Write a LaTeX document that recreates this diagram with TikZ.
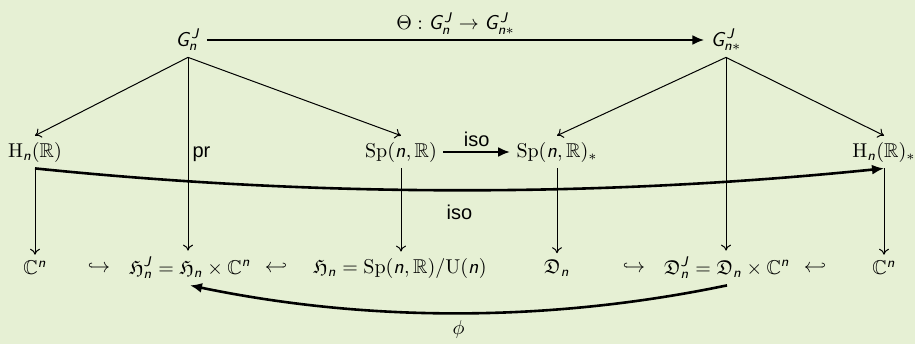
\documentclass[tikz,border=0pt]{standalone}
\usepackage{amsmath,amssymb}
\usepackage{fontspec}
\setsansfont{Liberation Sans}
\usepackage{xcolor}
\usepackage{tikz}
\usetikzlibrary{arrows.meta, positioning, calc}

\definecolor{slidebg}{RGB}{230,240,212}

% sans letters in formulas, as on the slide
\DeclareSymbolFont{sfletters}{OT1}{cmss}{m}{sl}
\DeclareSymbolFont{sfupright}{OT1}{cmss}{m}{n}
\DeclareMathSymbol{n}{\mathalpha}{sfletters}{`n}
\DeclareMathSymbol{J}{\mathalpha}{sfletters}{`J}
\DeclareMathSymbol{G}{\mathalpha}{sfletters}{`G}
\DeclareMathSymbol{\Theta}{\mathalpha}{sfupright}{"02}

\begin{document}
\begin{tikzpicture}[
    x=0.5pt, y=-0.5pt,
    obj/.style={inner sep=3pt},
    hook/.style={inner sep=0.5pt},
    map/.style={-{To[length=3pt,width=5pt]}, line width=0.5pt},
    bigmap/.style={-{Latex[length=6pt,width=5pt]}, line width=1.3pt},
    lbl/.style={font=\sffamily, inner sep=2pt},
  ]
  \fill[slidebg] (0,0) rectangle (915,344);
  \useasboundingbox (0,0) rectangle (915,344);

  % top row
  \node[obj] (Gn) at (188,40) {$G_n^J$};
  \node[obj] (Gs) at (726,40) {$G_{n*}^J$};

  % middle row
  \node[obj] (Hn)  at (35,152)  {$\mathrm{H}_n(\mathbb{R})$};
  \node[obj] (Sp)  at (401,152) {$\mathrm{Sp}(n,\mathbb{R})$};
  \node[obj] (Sps) at (557,152) {$\mathrm{Sp}(n,\mathbb{R})_*$};
  \node[obj] (Hs)  at (884,152) {$\mathrm{H}_n(\mathbb{R})_*$};

  % bottom row
  \node[obj]  (C1)  at (35,268)  {$\mathbb{C}^n$};
  \node[hook] (hk1) at (99,268)  {$\hookrightarrow$};
  \node[obj]  (HJ)  at (190,268) {$\mathfrak{H}_n^J = \mathfrak{H}_n\times\mathbb{C}^n$};
  \node[hook] (hk2) at (276,268) {$\hookleftarrow$};
  \node[obj]  (Hfr) at (400,268) {$\mathfrak{H}_n = \mathrm{Sp}(n,\mathbb{R})/\mathrm{U}(n)$};
  \node[obj]  (Dn)  at (557,268) {$\mathfrak{D}_n$};
  \node[hook] (hk3) at (634,268) {$\hookrightarrow$};
  \node[obj]  (DJ)  at (727,268) {$\mathfrak{D}_n^J = \mathfrak{D}_n\times\mathbb{C}^n$};
  \node[hook] (hk4) at (815,268) {$\hookleftarrow$};
  \node[obj]  (C2)  at (884,268) {$\mathbb{C}^n$};

  \draw[bigmap] (Gn) -- node[above, lbl] {$\Theta : G_n^J \to G_{n*}^J$} (Gs);
  \draw[bigmap] (Sp) -- node[above, lbl] {iso} (Sps);

  \draw[map] (Gn.south) -- (Hn.north);
  \draw[map] (Gn.south) -- (Sp.north);
  \draw[map] (Gn.south) -- node[pos=0.5, right, lbl] {pr} (Gn.south |- HJ.north);
  \draw[map] (Gs.south) -- (Sps.north);
  \draw[map] (Gs.south) -- (Hs.north);
  \draw[map] (Gs.south) -- (Gs.south |- DJ.north);

  \draw[map] (Hn.south) -- (C1.north);
  \draw[map] (Sp.south) -- (Sp.south |- Hfr.north);
  \draw[map] (Sps.south) -- (Dn.north);
  \draw[map] (Hs.south) -- (C2.north);

  \draw[bigmap] (Hn.south) .. controls ($(Hn.south)+(283,29)$) and ($(Hs.south)+(-283,29)$) ..
    node[below=5pt, lbl] {iso} (Hs.south);
  \draw[bigmap] (DJ.south) .. controls ($(DJ.south)+(-178,37)$) and ($(HJ.south)+(178,37)$) ..
    node[below=2pt, inner sep=1pt] {$\phi$} (HJ.south);
\end{tikzpicture}
\end{document}
